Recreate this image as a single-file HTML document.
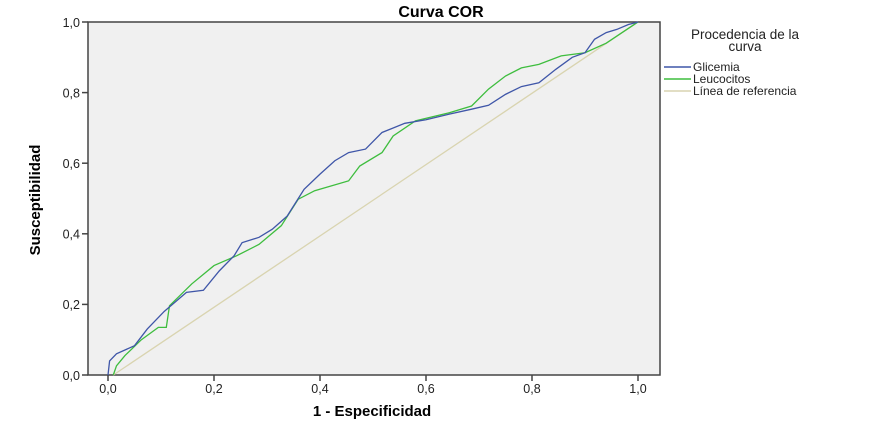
<!DOCTYPE html>
<html><head><meta charset="utf-8"><style>
html,body{margin:0;padding:0;background:#fff;width:883px;height:425px;overflow:hidden}
svg{display:block;font-family:"Liberation Sans",sans-serif}
</style></head><body>
<svg width="883" height="425" viewBox="0 0 883 425">
<rect x="88" y="22" width="572" height="353" fill="#f0f0f0" stroke="#444" stroke-width="1.5"/>
<text x="441" y="17" text-anchor="middle" font-size="16" font-weight="bold">Curva COR</text>
<g font-size="12.5" fill="#222">
<g text-anchor="end">
<text x="80" y="380">0,0</text><text x="80" y="309">0,2</text><text x="80" y="238.5">0,4</text>
<text x="80" y="168">0,6</text><text x="80" y="97.5">0,8</text><text x="80" y="27">1,0</text>
</g>
<g text-anchor="middle">
<text x="108" y="393">0,0</text><text x="214" y="393">0,2</text><text x="320" y="393">0,4</text>
<text x="426" y="393">0,6</text><text x="532" y="393">0,8</text><text x="638" y="393">1,0</text>
</g>
</g>
<g stroke="#444" stroke-width="1.5">
<line x1="82" y1="375" x2="88" y2="375"/><line x1="82" y1="304.4" x2="88" y2="304.4"/><line x1="82" y1="233.8" x2="88" y2="233.8"/>
<line x1="82" y1="163.2" x2="88" y2="163.2"/><line x1="82" y1="92.6" x2="88" y2="92.6"/><line x1="82" y1="22" x2="88" y2="22"/>
<line x1="108" y1="375" x2="108" y2="381"/><line x1="214" y1="375" x2="214" y2="381"/><line x1="320" y1="375" x2="320" y2="381"/>
<line x1="426" y1="375" x2="426" y2="381"/><line x1="532" y1="375" x2="532" y2="381"/><line x1="638" y1="375" x2="638" y2="381"/>
</g>
<text x="372" y="416" text-anchor="middle" font-size="15" font-weight="bold">1 - Especificidad</text>
<text transform="translate(40,200) rotate(-90)" text-anchor="middle" font-size="15" font-weight="bold">Susceptibilidad</text>
<g transform="translate(108,375) scale(530,-353)" fill="none">
<polyline vector-effect="non-scaling-stroke" stroke="#d9d4b0" stroke-width="1.3" points="0.01,0 1,1"/>
<polyline vector-effect="non-scaling-stroke" stroke="#3ebd3e" stroke-width="1.3" points="0.01,0 0.016,0.026 0.032,0.055 0.063,0.1 0.095,0.135 0.11,0.135 0.116,0.196 0.158,0.258 0.2,0.31 0.243,0.338 0.285,0.37 0.327,0.423 0.359,0.498 0.39,0.522 0.454,0.55 0.475,0.592 0.517,0.63 0.538,0.677 0.58,0.72 0.644,0.743 0.686,0.762 0.718,0.81 0.75,0.847 0.78,0.87 0.813,0.88 0.855,0.904 0.9,0.913 0.94,0.94 0.97,0.97 1,1"/>
<polyline vector-effect="non-scaling-stroke" stroke="#3f56a8" stroke-width="1.3" points="0,0 0.003,0.04 0.016,0.06 0.05,0.083 0.074,0.13 0.106,0.18 0.148,0.234 0.18,0.24 0.21,0.295 0.238,0.338 0.253,0.375 0.285,0.39 0.31,0.413 0.338,0.45 0.37,0.526 0.4,0.569 0.428,0.607 0.454,0.63 0.486,0.64 0.517,0.687 0.56,0.713 0.6,0.723 0.644,0.739 0.686,0.753 0.718,0.764 0.75,0.795 0.78,0.817 0.813,0.828 0.845,0.866 0.876,0.9 0.9,0.913 0.918,0.951 0.94,0.97 0.96,0.979 0.982,0.993 1,1"/>
</g>
<g font-size="12" fill="#222">
<text x="745" y="39" text-anchor="middle" font-size="13.5">Procedencia de la</text>
<text x="745" y="51" text-anchor="middle" font-size="13.5">curva</text>
<line x1="664" y1="67" x2="691" y2="67" stroke="#3f56a8" stroke-width="1.5"/>
<line x1="664" y1="79" x2="691" y2="79" stroke="#3ebd3e" stroke-width="1.5"/>
<line x1="664" y1="91" x2="691" y2="91" stroke="#d9d4b0" stroke-width="1.5"/>
<text x="693" y="71">Glicemia</text>
<text x="693" y="83">Leucocitos</text>
<text x="693" y="95">Línea de referencia</text>
</g>
</svg>
</body></html>
